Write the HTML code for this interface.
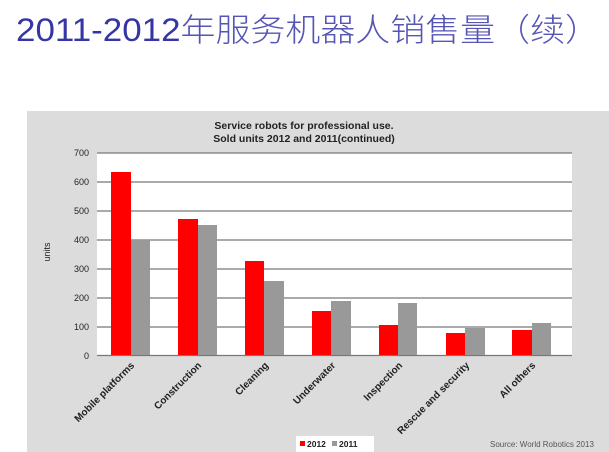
<!DOCTYPE html>
<html><head><meta charset="utf-8"><style>
html,body{margin:0;padding:0;background:#fff;width:609px;height:452px;overflow:hidden}
</style></head><body>
<svg width="609" height="452" xmlns="http://www.w3.org/2000/svg" font-family="Liberation Sans, Arial, sans-serif">
<text x="16" y="41" font-size="32" fill="#3535a5" font-family="Liberation Sans, Noto Sans CJK SC, sans-serif" textLength="584" lengthAdjust="spacingAndGlyphs">2011-2012<tspan fill="#5555b5" font-weight="300">年服务机器人销售量（续）</tspan></text>
<rect x="27" y="111" width="582" height="341" fill="#dcdcdc"/>
<rect x="97" y="153" width="475" height="202" fill="#fff"/>
<g stroke="#777" stroke-width="1.2">
<line x1="97" y1="153" x2="572" y2="153"/><line x1="97" y1="182" x2="572" y2="182"/>
<line x1="97" y1="211" x2="572" y2="211"/><line x1="97" y1="240" x2="572" y2="240"/>
<line x1="97" y1="269" x2="572" y2="269"/><line x1="97" y1="298" x2="572" y2="298"/>
<line x1="97" y1="327" x2="572" y2="327"/><line x1="97" y1="355.5" x2="572" y2="355.5"/>
</g>
<g font-size="9" text-anchor="end" fill="#222">
<text x="89" y="156">700</text><text x="89" y="185">600</text><text x="89" y="214">500</text>
<text x="89" y="243">400</text><text x="89" y="272">300</text><text x="89" y="301">200</text>
<text x="89" y="330">100</text><text x="89" y="359">0</text>
</g>
<text transform="translate(50,252) rotate(-90)" font-size="9" text-anchor="middle" fill="#222">units</text>
<text x="304" y="129" font-size="10.5" font-weight="bold" text-anchor="middle" fill="#222">Service robots for professional use.</text>
<text x="304" y="142" font-size="10.5" font-weight="bold" text-anchor="middle" fill="#222">Sold units 2012 and 2011(continued)</text>
<g fill="#ff0000">
<rect x="111" y="172" width="20" height="183"/><rect x="178" y="219" width="20" height="136"/>
<rect x="245" y="261" width="19" height="94"/><rect x="312" y="311" width="19" height="44"/>
<rect x="379" y="325" width="19" height="30"/><rect x="446" y="333" width="19" height="22"/>
<rect x="512" y="330" width="20" height="25"/>
</g>
<g fill="#999">
<rect x="131" y="240" width="19" height="115"/><rect x="198" y="225" width="19" height="130"/>
<rect x="264" y="281" width="20" height="74"/><rect x="331" y="301" width="20" height="54"/>
<rect x="398" y="303" width="19" height="52"/><rect x="465" y="328" width="20" height="27"/>
<rect x="532" y="323" width="19" height="32"/>
</g>
<g font-size="10" font-weight="bold" text-anchor="end" fill="#222">
<text transform="translate(135,366) rotate(-45)">Mobile platforms</text>
<text transform="translate(202,366) rotate(-45)">Construction</text>
<text transform="translate(269,366) rotate(-45)">Cleaning</text>
<text transform="translate(336,366) rotate(-45)">Underwater</text>
<text transform="translate(403,366) rotate(-45)">Inspection</text>
<text transform="translate(470,366) rotate(-45)">Rescue and security</text>
<text transform="translate(536,366) rotate(-45)">All others</text>
</g>
<rect x="296" y="436" width="78" height="16" fill="#fff"/>
<rect x="300" y="441" width="5" height="5" fill="#ff0000"/>
<text x="307" y="447" font-size="8.5" font-weight="bold" fill="#222">2012</text>
<rect x="332" y="441" width="5" height="5" fill="#999"/>
<text x="339" y="447" font-size="8.5" font-weight="bold" fill="#222">2011</text>
<text x="490" y="447" font-size="8" fill="#555">Source: World Robotics 2013</text>
</svg>
</body></html>
